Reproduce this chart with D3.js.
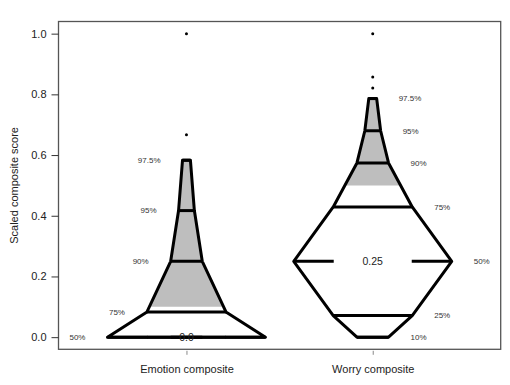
<!DOCTYPE html>
<html><head><meta charset="utf-8">
<script src="https://cdn.jsdelivr.net/npm/d3@7"></script>
<style>body{margin:0;background:#fff;} text{font-family:"Liberation Sans",Arial,sans-serif;}</style>
</head><body>
<svg id="c" width="510" height="385"></svg>
<script>
const categories = ["Emotion composite", "Worry composite"];
const percentiles = [0.10, 0.25, 0.50, 0.75, 0.90, 0.95, 0.975];
const percentLabels = ["10%", "25%", "50%", "75%", "90%", "95%", "97.5%"];
const emotionQuantiles = [0, 0, 0, 0.083, 0.25, 0.417, 0.583];
const worryQuantiles = [0, 0.071, 0.25, 0.429, 0.574, 0.68, 0.786];
const emotionOutliers = [0.667, 1.0];
const worryOutliers = [0.821, 0.857, 1.0];
const shadeFrom = [0.1, 0.5];
const medianLabels = ["0.0", "0.25"];
const yTicks = [0, 0.2, 0.4, 0.6, 0.8, 1.0];

const quantiles = [emotionQuantiles, worryQuantiles];
const outliers = [emotionOutliers, worryOutliers];
const labelSide = [-1, 1];

const svg = d3.select("#c");
const L = 58.5, R = 500.7, T = 21.5, B = 349.3;
const x = d3.scalePoint().domain(categories).range([L, R]).padding(0.687);
const y = d3.scaleLinear().domain([-0.04, 1.04]).range([B, T]);
const w = d3.scaleLinear().domain([0, 0.5]).range([0, 79]);
const hw = p => w(Math.min(p, 1 - p));

// frame
svg.append("rect").attr("x", L).attr("y", T).attr("width", R - L).attr("height", B - T)
  .attr("fill", "none").attr("stroke", "#555").attr("stroke-width", 1.3);

// y axis
const ya = svg.append("g").attr("transform", `translate(${L},0)`)
  .call(d3.axisLeft(y).tickValues(yTicks).tickFormat(d3.format(".1f")).tickSize(7).tickPadding(5));
ya.select(".domain").remove();
ya.selectAll("line").attr("stroke", "#333");
ya.selectAll("text").attr("font-size", 11).attr("fill", "#222").attr("font-family", "Liberation Sans, Arial, sans-serif");

// x axis
const xa = svg.append("g").attr("transform", `translate(0,${B + 1.5})`)
  .call(d3.axisBottom(x).tickSize(4).tickPadding(10));
xa.select(".domain").remove();
xa.selectAll("line").attr("stroke", "#888");
xa.selectAll("text").attr("font-size", 11).attr("fill", "#222").attr("font-family", "Liberation Sans, Arial, sans-serif");

// y title
svg.append("text").attr("transform", `translate(18,${(T + B) / 2}) rotate(-90)`)
  .attr("text-anchor", "middle").attr("font-size", 11).attr("fill", "#222")
  .text("Scaled composite score");

const defs = svg.append("defs");

categories.forEach((cat, i) => {
  const c = x(cat), q = quantiles[i];
  const pts = [];
  percentiles.forEach((p, j) => pts.push([c - hw(p), y(q[j])]));
  for (let j = percentiles.length - 1; j >= 0; j--) pts.push([c + hw(percentiles[j]), y(q[j])]);
  const line = d3.line();
  const pathD = line(pts) + "Z";

  defs.append("clipPath").attr("id", "clip" + i).append("rect")
    .attr("x", 0).attr("y", 0).attr("width", 510).attr("height", y(shadeFrom[i]));
  svg.append("path").attr("d", pathD).attr("fill", "#bebebe").attr("stroke", "none")
    .attr("clip-path", `url(#clip${i})`);

  // quantile lines
  percentiles.forEach((p, j) => {
    const yy = y(q[j]);
    if (p === 0.5) {
      const gap = 39;
      svg.append("line").attr("x1", c - hw(p)).attr("x2", c - gap).attr("y1", yy).attr("y2", yy)
        .attr("stroke", "#000").attr("stroke-width", 3);
      svg.append("line").attr("x1", c + gap).attr("x2", c + hw(p)).attr("y1", yy).attr("y2", yy)
        .attr("stroke", "#000").attr("stroke-width", 3);
    } else {
      svg.append("line").attr("x1", c - hw(p)).attr("x2", c + hw(p)).attr("y1", yy).attr("y2", yy)
        .attr("stroke", "#000").attr("stroke-width", 3);
    }
  });

  svg.append("path").attr("d", pathD).attr("fill", "none").attr("stroke", "#000")
    .attr("stroke-width", 3).attr("stroke-linejoin", "round");

  // median label
  svg.append("text").attr("x", c).attr("y", y(q[2])).attr("dy", "0.35em")
    .attr("text-anchor", "middle").attr("font-size", 10.5).attr("fill", "#222")
    .text(medianLabels[i]);

  // percentile labels
  const s = labelSide[i];
  percentiles.forEach((p, j) => {
    if (j < percentiles.length - 1 && q[j + 1] === q[j]) return;
    svg.append("text").attr("x", c + s * (hw(p) + 22)).attr("y", y(q[j])).attr("dy", "0.35em")
      .attr("text-anchor", s < 0 ? "end" : "start").attr("font-size", 8).attr("fill", "#333")
      .text(percentLabels[j]);
  });

  // outliers
  svg.selectAll(null).data(outliers[i]).enter().append("circle")
    .attr("cx", c).attr("cy", d => y(d)).attr("r", 1.5).attr("fill", "#000");
});
</script>
</body></html>
